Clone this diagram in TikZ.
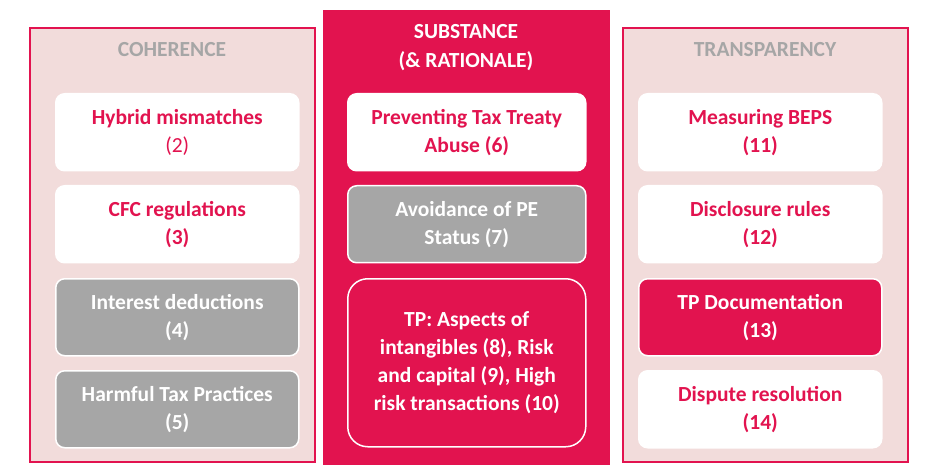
\documentclass[tikz,border=0pt]{standalone}
\usepackage{fontspec}
\setmainfont{Carlito}
\definecolor{crim}{HTML}{E2134F}
\definecolor{pinkbg}{HTML}{F2DCDB}
\definecolor{grayb}{HTML}{A6A6A6}
\begin{document}
\begin{tikzpicture}[x=1pt,y=-1pt,
  panel/.style={draw=crim,line width=1.5pt,fill=pinkbg},
  item/.style={rounded corners=9pt,draw=white,line width=1.5pt,fill=white,minimum width=243pt,minimum height=77pt,align=center,font=\fontsize{21.5}{28}\selectfont\bfseries,text=crim,anchor=north west,inner sep=2pt},
  grayitem/.style={item,fill=grayb,text=white},
  crimitem/.style={item,fill=crim,text=white},
  title/.style={font=\fontsize{21.5}{29}\selectfont\bfseries,align=center}]
\useasboundingbox (0,0) rectangle (948,473);
\fill[white] (0,0) rectangle (948,473);
\draw[panel] (30,28) rectangle (315,462);
\draw[panel] (623,28) rectangle (908,462);
\fill[crim] (323,10) rectangle (610,465);
\node[title,text=grayb] (tc) at (172,50) {COHERENCE};
\node[title,text=grayb] (tt) at (765,50) {TRANSPARENCY};
\node[title,text=white] (ts) at (466,48) {SUBSTANCE\\(\& RATIONALE)};
% left
\node[item] (l1) at (55,93) {Hybrid mismatches\\{\mdseries(2)}};
\node[item] (l2) at (55,185) {CFC regulations\\(3)};
\node[grayitem] (l3) at (55,278) {Interest deductions\\(4)};
\node[grayitem] (l4) at (55,370) {Harmful Tax Practices\\(5)};
% middle
\node[item,minimum width=238pt] (m1) at (347,93) {Preventing Tax Treaty\\Abuse (6)};
\node[grayitem,minimum width=238pt] (m2) at (347,185) {Avoidance of PE\\Status (7)};
\node[crimitem,draw=white,rounded corners=20pt,minimum width=238pt,minimum height=168pt] (m3) at (347,278) {TP: Aspects of\\intangibles (8), Risk\\and capital (9), High\\risk transactions (10)};
% right
\node[item] (r1) at (638,93) {Measuring BEPS\\(11)};
\node[item] (r2) at (638,185) {Disclosure rules\\(12)};
\node[crimitem] (r3) at (638,278) {TP Documentation\\(13)};
\node[item] (r4) at (638,370) {Dispute resolution\\(14)};
\end{tikzpicture}
\end{document}
